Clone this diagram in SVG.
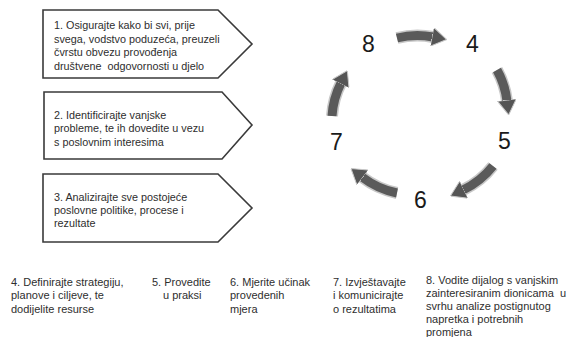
<svg xmlns="http://www.w3.org/2000/svg" width="568" height="337" viewBox="0 0 568 337">
<style>
.box{fill:#fff;stroke:#3a3a3a;stroke-width:1.6}
.t{font-family:"Liberation Sans",Arial,sans-serif;font-size:10.8px;fill:#2e2e2e;white-space:pre}
.b{font-family:"Liberation Sans",Arial,sans-serif;font-size:11px;fill:#2e2e2e;white-space:pre}
.n{font-family:"Liberation Sans",Arial,sans-serif;font-size:23px;fill:#1a1a1a}
.under{fill:none;stroke:#c8c8c8;stroke-width:12}
.shaft{fill:none;stroke:#5a5a5a;stroke-width:9;marker-end:url(#ah)}
</style>
<defs>
<marker id="ah" markerWidth="15" markerHeight="19" refX="1" refY="9.5" orient="auto" markerUnits="userSpaceOnUse">
<path d="M0,0 L15,9.5 L0,19 Z" fill="#555" stroke="#c8c8c8" stroke-width="1"/>
</marker>
</defs>
<g id="box1">
<path class="box" d="M43,10 H218 L252,44 L218,78 H43 Z"/>
<text class="t"><tspan x="54" y="29">1. Osigurajte kako bi svi, prije</tspan><tspan x="54" y="43">svega, vodstvo poduzeća, preuzeli</tspan><tspan x="54" y="56">čvrstu obvezu provođenja</tspan><tspan x="54" y="70">društvene  odgovornosti u djelo</tspan></text>
</g>
<g id="box2">
<path class="box" d="M44,92 H222 L252,125 L222,159 H44 Z"/>
<text class="t"><tspan x="54" y="119">2. Identificirajte vanjske</tspan><tspan x="54" y="132">probleme, te ih dovedite u vezu</tspan><tspan x="54" y="146">s poslovnim interesima</tspan></text>
</g>
<g id="box3">
<path class="box" d="M43,174 H218 L252,208 L218,242 H43 Z"/>
<text class="t"><tspan x="54" y="201">3. Analizirajte sve postojeće</tspan><tspan x="54" y="214">poslovne politike, procese i</tspan><tspan x="54" y="227">rezultate</tspan></text>
</g>
<g id="labels">
<text class="b"><tspan x="11" y="286">4. Definirajte strategiju,</tspan><tspan x="11" y="299">planove i ciljeve, te</tspan><tspan x="11" y="313">dodijelite resurse</tspan></text>
<text class="b"><tspan x="152" y="286">5. Provedite</tspan><tspan x="163" y="299">u praksi</tspan></text>
<text class="b"><tspan x="230" y="286">6. Mjerite učinak</tspan><tspan x="230" y="299">provedenih</tspan><tspan x="230" y="313">mjera</tspan></text>
<text class="b"><tspan x="333" y="286">7. Izvještavajte</tspan><tspan x="333" y="299">i komunicirajte</tspan><tspan x="333" y="313">o rezultatima</tspan></text>
<text class="b"><tspan x="426" y="284">8. Vodite dijalog s vanjskim</tspan><tspan x="426" y="297">zainteresiranim dionicama  u</tspan><tspan x="426" y="310">svrhu analize postignutog</tspan><tspan x="426" y="323">napretka i potrebnih</tspan><tspan x="426" y="336">promjena</tspan></text>
</g>
<g id="numbers">
<text class="n" x="362" y="52">8</text>
<text class="n" x="466" y="52">4</text>
<text class="n" x="330" y="150">7</text>
<text class="n" x="498" y="149">5</text>
<text class="n" x="414" y="208">6</text>
</g>
<g id="connectors">
<path class="under" d="M397,38 A85,85 0 0 1 433,37"/>
<path class="shaft" d="M397,38 A85,85 0 0 1 433,37"/>
<path class="under" d="M497,70 A85,85 0 0 1 507,101"/>
<path class="shaft" d="M497,70 A85,85 0 0 1 507,101"/>
<path class="under" d="M493,166 A85,85 0 0 1 463,190"/>
<path class="shaft" d="M493,166 A85,85 0 0 1 463,190"/>
<path class="under" d="M397,193 A85,85 0 0 1 362,177"/>
<path class="shaft" d="M397,193 A85,85 0 0 1 362,177"/>
<path class="under" d="M332,116 A85,85 0 0 1 341,83"/>
<path class="shaft" d="M332,116 A85,85 0 0 1 341,83"/>
</g>
</svg>
